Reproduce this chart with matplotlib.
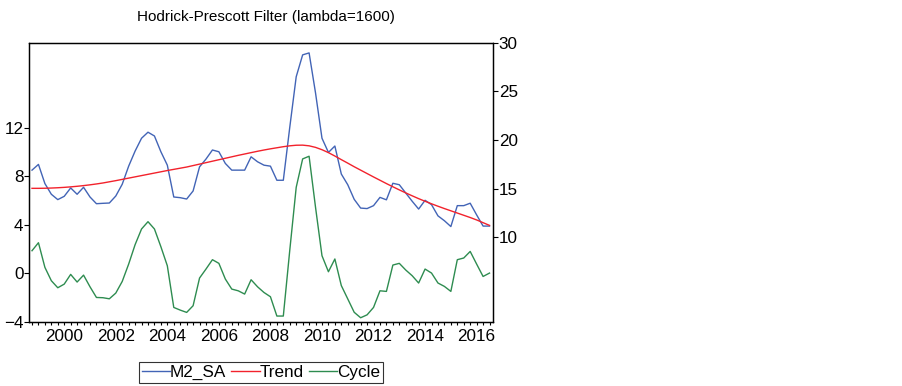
# HP filter chart: M2_SA and its trend on the right axis, cycle on the left

import numpy as np
import pandas as pd
import matplotlib
matplotlib.use('Agg')
import matplotlib.pyplot as plt
from matplotlib.ticker import FixedLocator

plt.rcParams['font.family'] = ['Liberation Sans', 'DejaVu Sans']

# quarters 1998Q4 .. 2016Q3
quarters = pd.period_range('1998Q4', '2016Q3', freq='Q')
x = quarters.year + (quarters.quarter - 1) / 4

m2_sa = [16.9, 17.49, 15.52, 14.42, 13.87, 14.21, 15.07, 14.42, 15.14, 14.14,
         13.45, 13.49, 13.52, 14.24, 15.45, 17.31, 18.86, 20.18, 20.8, 20.41,
         18.79, 17.41, 14.14, 14.07, 13.93,
         14.76, 17.24, 18.04, 18.97, 18.79, 17.59, 16.9, 16.9, 16.9, 18.27,
         17.76, 17.41, 17.31, 15.86, 15.86, 21.3, 26.5, 28.75, 28.95, 24.83,
         20.18, 18.72, 19.38, 16.5,
         15.4, 13.9, 13.0, 12.95, 13.25, 14.1, 13.85, 15.55, 15.4, 14.55,
         13.7, 12.9, 13.8, 13.35, 12.2, 11.7, 11.1, 13.25, 13.25, 13.5,
         12.3, 11.15, 11.15]

trend = [15.03, 15.03, 15.04, 15.06, 15.09, 15.13, 15.18, 15.24, 15.31, 15.39,
         15.48, 15.58, 15.70, 15.82, 15.95, 16.08, 16.21, 16.34, 16.47, 16.60,
         16.73, 16.86, 16.98, 17.10, 17.22,
         17.37, 17.52, 17.67, 17.82, 17.97, 18.12, 18.27, 18.42, 18.56, 18.70,
         18.84, 18.97, 19.09, 19.20, 19.31, 19.40, 19.46, 19.47, 19.40, 19.24,
         19.00, 18.70, 18.35,
         17.98, 17.62, 17.25, 16.9, 16.55, 16.2, 15.86, 15.52, 15.19, 14.87,
         14.56, 14.26, 13.97, 13.70, 13.44, 13.19, 12.95, 12.72, 12.49, 12.26,
         12.03, 11.78, 11.50, 11.22]

cycle = [1.87, 2.53, 0.5, -0.6, -1.18, -0.88, -0.08, -0.71, -0.14, -1.1,
         -1.98, -2.0, -2.09, -1.62, -0.66, 0.77, 2.37, 3.66, 4.26, 3.66,
         2.2, 0.63, -2.8, -3.02, -3.21,
         -2.66, -0.38, 0.36, 1.13, 0.83, -0.46, -1.29, -1.43, -1.7, -0.52,
         -1.1, -1.57, -1.92, -3.51, -3.51, 1.9, 7.09, 9.43, 9.65, 5.44,
         1.46, 0.14, 1.19, -1.0,
         -2.1, -3.2, -3.65, -3.41, -2.8, -1.43, -1.48, 0.69, 0.83, 0.28,
         -0.19, -0.79, 0.36, 0.03, -0.79, -1.07, -1.48, 1.13, 1.27, 1.81,
         0.77, -0.25, 0.03]

year_ticks = [2000, 2002, 2004, 2006, 2008, 2010, 2012, 2014, 2016]
left_ticks = [-4, 0, 4, 8, 12]
right_ticks = [10, 15, 20, 25, 30]

blue = '#4264B6'
red = '#F2222C'
green = '#2E8C50'
fs = 12.3

fig = plt.figure(figsize=(9.03, 3.86), dpi=100)
ax = fig.add_axes([29.3 / 903, 1 - 322 / 386, (493 - 29.3) / 903, (322 - 42.7) / 386])
ax2 = ax.twinx()

l3, = ax.plot(x, cycle, color=green, lw=1.0)
l1, = ax2.plot(x, m2_sa, color=blue, lw=1.0)
l2, = ax2.plot(x, trend, color=red, lw=1.0)

ax.set_xlim(1998.645, 2016.635)
ax.set_ylim(-4.0, 19.0)
ax2.set_ylim(1.29, 30.0)
ax.set_yticks(left_ticks)
ax2.set_yticks(right_ticks)
ax.set_xticks(year_ticks)
ax.xaxis.set_minor_locator(FixedLocator(list(x)))

for a in (ax, ax2):
    for s in a.spines.values():
        s.set_linewidth(0.9)
ax.tick_params(axis='y', direction='out', length=3.6, width=0.8, pad=0.5, labelsize=fs)
ax2.tick_params(axis='y', direction='out', length=3.6, width=0.8, pad=0.5, labelsize=fs)
ax.tick_params(axis='x', which='both', direction='out', length=2.2, width=0.8, pad=3, labelsize=fs)

fig.text(266 / 903, 1 - 17.5 / 386, 'Hodrick-Prescott Filter (lambda=1600)',
         ha='center', va='center', fontsize=11)

leg = fig.legend([l1, l2, l3], ['M2_SA', 'Trend', 'Cycle'], loc='center',
                 bbox_to_anchor=(261 / 903, 1 - 372.5 / 386), ncol=3,
                 frameon=True, fancybox=False, edgecolor='black',
                 handlelength=1.65, handletextpad=0.0, columnspacing=0.3,
                 borderpad=0.15, borderaxespad=0, fontsize=fs)
leg.get_frame().set_linewidth(0.8)

fig.savefig('out.png', dpi=100)
